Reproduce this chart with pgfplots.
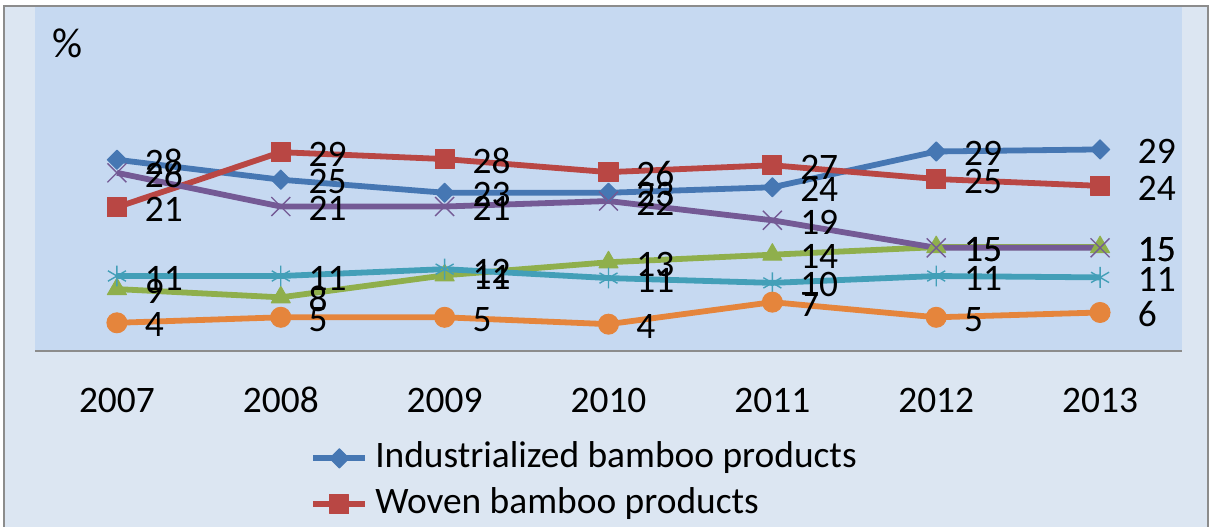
\documentclass[border=0pt]{standalone}
\usepackage{fontspec}
\setmainfont{Carlito}
\usepackage{pgfplots}
\usepackage{pgfplotstable}
\pgfplotsset{compat=1.18}
\definecolor{outerbg}{HTML}{DCE6F2}
\definecolor{plotbg}{HTML}{C6D9F1}
\definecolor{bordergray}{HTML}{8C8C8C}
\definecolor{cblue}{HTML}{4677B3}
\definecolor{cred}{HTML}{B94744}
\definecolor{cgreen}{HTML}{8FAF4C}
\definecolor{cpurple}{HTML}{745A95}
\definecolor{ccyan}{HTML}{439FB8}
\definecolor{corange}{HTML}{E5853C}
\newcommand{\lbl}{\fontsize{18.7}{22}\selectfont}
\pgfplotstableread{
x ind wov gre pur cya ora
0 27.8 20.9 9.0 25.9 10.9 4.1
1 24.9 28.9 7.8 21.0 10.9 4.9
2 23.0 27.9 11.0 21.0 11.9 4.9
3 23.0 26.0 12.9 21.8 10.6 3.9
4 23.8 27.0 14.0 19.0 9.9 7.1
5 29.0 25.0 15.1 15.0 10.9 4.9
6 29.3 24.0 15.1 15.0 10.7 5.6
}\datatable
\begin{document}
\begin{tikzpicture}
\path[use as bounding box] (-17.5pt,-87.5pt) rectangle (588pt,175.5pt);
\clip (-17.5pt,-87.5pt) rectangle (588pt,175.5pt);
\filldraw[fill=outerbg, draw=bordergray, line width=0.8pt] (-15.5pt,-100pt) rectangle (586.5pt,172.5pt);
\begin{axis}[
  at={(0pt,0pt)}, anchor=south west,
  scale only axis, width=573.5pt, height=172pt,
  xmin=-0.5, xmax=6.5, ymin=0, ymax=50,
  xtick={0,...,6}, xticklabels={2007,2008,2009,2010,2011,2012,2013},
  ytick=\empty,
  axis x line*=bottom, axis y line=none,
  x axis line style={draw=bordergray, line width=1pt, -},
  major tick length=0pt,
  axis background/.style={fill=plotbg},
  xticklabel style={font=\lbl, inner sep=0pt, anchor=base, yshift=-30.5pt},
  /pgf/number format/assume math mode=true,
  every axis plot/.append style={line width=2.9pt, line join=round},
  legend image code/.code={\draw[mark repeat=2,mark phase=2,#1] plot coordinates {(0pt,0pt) (13pt,0pt) (26pt,0pt)};},
  legend style={at={(axis description cs:0.2398,-0.2616)}, anchor=north west,
    draw=none, fill=none, inner sep=0pt, row sep=6pt, column sep=3.5pt,
    nodes={inner sep=0pt, font=\lbl, text height=13pt, text depth=4pt}},
  legend cell align=left,
  lbls/.style={draw=none, mark=none, forget plot,
    nodes near coords={\pgfmathprintnumber[fixed,precision=0]{\pgfplotspointmeta}},
    every node near coord/.style={anchor=west, inner sep=0pt, font=\lbl, text=black,
      xshift=#1, yshift=-1pt}},
  lblsA/.style={lbls=12.5pt, restrict x to domain=0:5.5},
  lblsB/.style={lbls=17.5pt, restrict x to domain=5.5:6.5},
]
\addplot[cblue, mark=square*, mark size=3.4pt, mark options={rotate=45, line width=0.5pt}] table[x=x,y=ind]{\datatable};
\addplot[cred, mark=square*, mark size=4.8pt, mark options={line width=0.5pt}] table[x=x,y=wov]{\datatable};
\addplot[cgreen, mark=triangle*, mark size=5.5pt, mark options={line width=0.5pt}] table[x=x,y=gre]{\datatable};
\addplot[cpurple, mark=x, mark size=6.7pt, mark options={line width=0.7pt}] table[x=x,y=pur]{\datatable};
\addplot[ccyan, mark=asterisk, mark size=5.2pt, mark options={line width=0.7pt}] table[x=x,y=cya]{\datatable};
\addplot[corange, mark=*, mark size=5pt, mark options={line width=0.5pt}] table[x=x,y=ora]{\datatable};
\legend{Industrialized bamboo products, Woven bamboo products}
\addplot[lblsA] table[x=x,y=ind]{\datatable};
\addplot[lblsA] table[x=x,y=wov]{\datatable};
\addplot[lblsA] table[x=x,y=gre]{\datatable};
\addplot[lblsA] table[x=x,y=pur]{\datatable};
\addplot[lblsA] table[x=x,y=cya]{\datatable};
\addplot[lblsA] table[x=x,y=ora]{\datatable};
\addplot[lblsB] table[x=x,y=ind]{\datatable};
\addplot[lblsB] table[x=x,y=wov]{\datatable};
\addplot[lblsB] table[x=x,y=gre]{\datatable};
\addplot[lblsB] table[x=x,y=pur]{\datatable};
\addplot[lblsB] table[x=x,y=cya]{\datatable};
\addplot[lblsB] table[x=x,y=ora]{\datatable};
\node[anchor=west, inner sep=0pt, font=\fontsize{21}{24}\selectfont] at (axis description cs:0.0148,0.894) {\%};
\end{axis}
\end{tikzpicture}
\end{document}
